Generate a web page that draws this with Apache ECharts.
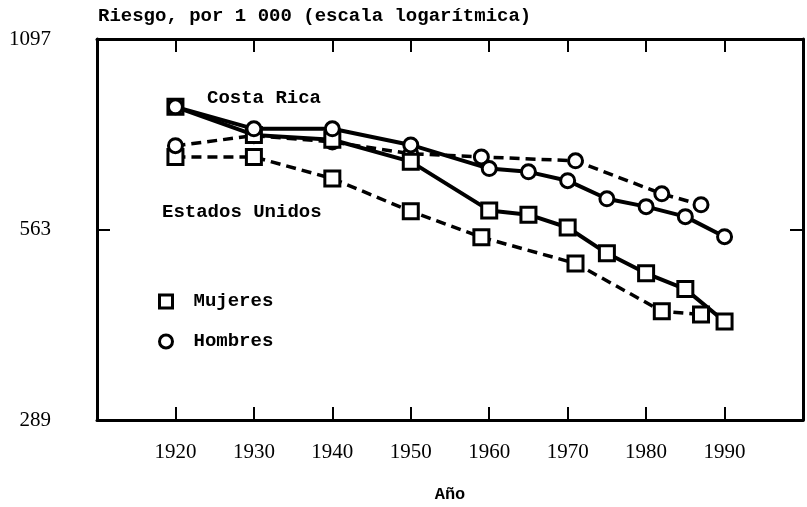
<!DOCTYPE html>
<html>
<head>
<meta charset="utf-8">
<script src="https://cdn.jsdelivr.net/npm/echarts@6/dist/echarts.min.js"></script>
<style>
  body { margin: 0; background: #fff; }
  #chart { width: 807px; height: 507px; }
</style>
</head>
<body>
<div id="chart"></div>
<script>
// years and risk per 1 000
var crYears = [1920, 1930, 1940, 1950, 1960, 1965, 1970, 1975, 1980, 1985, 1990]
var crMujeres = [865, 784, 771, 714, 602, 593, 567, 518, 483, 457, 408]
var crHombres = [865, 801, 801, 757, 697, 689, 668, 627, 610, 589, 549]

var usYears = [1920, 1930, 1940, 1950, 1959, 1971, 1982, 1987]
var usMujeres = [726, 726, 673, 600, 548, 500, 423, 418]
var usHombres = [755, 782, 765, 734, 726, 716, 638, 614]

var yTicks = [289, 563, 1097]
var xMin = 1910
var xMax = 2000

function pairs(years, vals) {
    var arr = []
    for (var i = 0; i < years.length; i++) {
        arr.push([years[i], vals[i]])
    }
    return arr
}

var monoFont = 'Liberation Mono'
var serifFont = 'Liberation Serif'

// base picked so that the middle label is the only whole power inside the range
var logBase = Math.pow(yTicks[1], 1 / 9)

function xAxisOpt(pos) {
    var bottom = pos === 'bottom'
    return {
        type: 'value',
        gridIndex: 0,
        position: pos,
        min: xMin,
        max: xMax,
        interval: 10,
        name: bottom ? 'Año' : '',
        nameLocation: 'middle',
        nameGap: 66,
        nameTextStyle: { fontFamily: monoFont, fontWeight: 'bold', fontSize: 17, color: '#000' },
        axisLine: { show: true, onZero: false, lineStyle: { color: '#000', width: 3 } },
        axisTick: { show: true, inside: true, length: 13, lineStyle: { color: '#000', width: 2 } },
        axisLabel: {
            // top labels kept but invisible, otherwise the top ticks vanish
            show: true,
            margin: bottom ? 22 : 2,
            showMinLabel: false,
            showMaxLabel: false,
            fontFamily: serifFont,
            fontSize: bottom ? 21 : 8,
            color: bottom ? '#000' : 'rgba(0,0,0,0)',
            formatter: function (v) { return String(v) }
        },
        splitLine: { show: false }
    }
}

function yAxisOpt(pos) {
    return {
        type: 'log',
        gridIndex: 0,
        logBase: logBase,
        position: pos,
        min: yTicks[0],
        max: yTicks[2],
        axisLine: { show: true, onZero: false, lineStyle: { color: '#000', width: 3 } },
        axisTick: { show: true, inside: true, length: 13, lineStyle: { color: '#000', width: 2 } },
        axisLabel: {
            show: pos === 'left',
            margin: 46,
            padding: [5, 0, 0, 0],
            fontFamily: serifFont,
            fontSize: 21,
            color: '#000',
            formatter: function (v) { return String(Math.round(v)) }
        },
        splitLine: { show: false }
    }
}

function lineSeries(name, years, vals, symbol, dashed) {
    return {
        name: name,
        type: 'line',
        xAxisIndex: 0,
        yAxisIndex: 0,
        data: pairs(years, vals),
        symbol: symbol,
        symbolSize: symbol === 'rect' ? 15 : 14,
        showAllSymbol: true,
        lineStyle: { color: '#000', width: dashed ? 3.5 : 4, type: dashed ? [10, 6] : 'solid' },
        itemStyle: { color: '#fff', borderColor: '#000', borderWidth: 3 },
        emphasis: { disabled: true },
        animation: false
    }
}

var chart = echarts.init(document.getElementById('chart'))

var textFont = { fontFamily: monoFont, fontWeight: 'bold', fontSize: 19, color: '#000' }

var option = {
    backgroundColor: '#fff',
    title: [
        { text: 'Riesgo, por 1 000 (escala logarítmica)', left: 93, top: 2, textStyle: textFont },
        { text: 'Costa Rica', left: 202, top: 84, textStyle: textFont },
        { text: 'Estados Unidos', left: 157, top: 198, textStyle: textFont }
    ],
    legend: {
        orient: 'vertical',
        left: 153,
        top: 287,
        itemWidth: 13,
        itemHeight: 13,
        itemGap: 21,
        data: [
            { name: 'Mujeres', icon: 'rect' },
            { name: 'Hombres', icon: 'circle' }
        ],
        itemStyle: { color: '#fff', borderColor: '#000', borderWidth: 3 },
        textStyle: { fontFamily: monoFont, fontWeight: 'bold', fontSize: 19, color: '#000', padding: [0, 0, 0, 16] },
        selectedMode: false
    },
    grid: { left: 97, right: 4, top: 39, bottom: 87, containLabel: false, outerBoundsMode: 'none' },
    xAxis: [xAxisOpt('bottom'), xAxisOpt('top')],
    yAxis: [yAxisOpt('left'), yAxisOpt('right')],
    series: [
        lineSeries('Mujeres', usYears, usMujeres, 'rect', true),
        lineSeries('Hombres', usYears, usHombres, 'circle', true),
        lineSeries('Mujeres', crYears, crMujeres, 'rect', false),
        lineSeries('Hombres', crYears, crHombres, 'circle', false)
    ]
}

option && chart.setOption(option)
</script>
</body>
</html>
